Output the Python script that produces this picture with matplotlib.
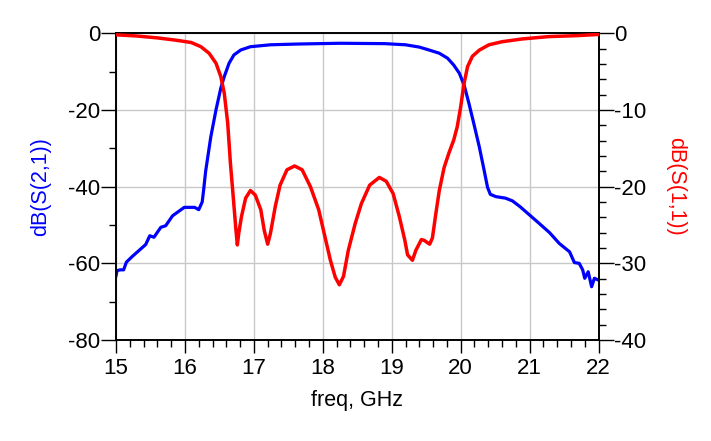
import matplotlib.pyplot as plt
from matplotlib.ticker import MultipleLocator

plt.rcParams["font.family"] = ["Liberation Sans", "DejaVu Sans"]
plt.rcParams["axes.unicode_minus"] = False

# S21 trace (blue, left axis)
freq_s21 = [15.00, 15.015, 15.06, 15.11, 15.15, 15.23, 15.33, 15.43, 15.49, 15.55,
            15.65, 15.72, 15.82, 15.99, 16.14, 16.20, 16.25, 16.27, 16.30, 16.375,
            16.45, 16.52, 16.57, 16.64, 16.71, 16.81, 16.95, 17.24, 17.63, 18.25,
            18.90, 19.20, 19.40, 19.54, 19.69, 19.81, 19.90, 19.98, 20.05, 20.12,
            20.19, 20.27, 20.34, 20.39, 20.43, 20.51, 20.65, 20.75, 20.86, 21.00,
            21.14, 21.29, 21.43, 21.58, 21.65, 21.72, 21.77, 21.80, 21.85, 21.90,
            21.94, 21.99]
s21_db = [-63.2, -61.9, -61.7, -61.7, -59.7, -58.3, -56.7, -55.1, -52.8, -53.2,
          -50.6, -50.2, -47.6, -45.4, -45.4, -46.0, -44.0, -41.0, -36.0, -27.0,
          -20.0, -14.3, -11.3, -7.8, -5.65, -4.35, -3.5, -3.0, -2.8, -2.6,
          -2.7, -3.0, -3.6, -4.35, -5.2, -6.5, -8.3, -10.4, -13.5, -18.3,
          -23.5, -29.6, -35.7, -40.2, -42.0, -42.6, -43.0, -43.7, -45.2, -47.4,
          -49.6, -52.0, -54.8, -57.0, -59.8, -60.0, -61.7, -63.9, -62.2, -66.1,
          -63.9, -64.3]

# S11 trace (red, right axis)
freq_s11 = [15.00, 15.30, 15.60, 15.87, 16.09, 16.23, 16.35, 16.45, 16.52, 16.57,
            16.62, 16.66, 16.70, 16.74, 16.76, 16.78, 16.82, 16.88, 16.95, 17.02,
            17.10, 17.15, 17.20, 17.24, 17.31, 17.38, 17.48, 17.59, 17.70, 17.82,
            17.94, 18.03, 18.11, 18.18, 18.24, 18.30, 18.37, 18.47, 18.56, 18.68,
            18.82, 18.92, 19.02, 19.11, 19.19, 19.23, 19.30, 19.35, 19.43, 19.47,
            19.55, 19.59, 19.64, 19.69, 19.76, 19.83, 19.90, 19.95, 20.00, 20.05,
            20.10, 20.17, 20.27, 20.41, 20.60, 20.89, 21.28, 21.70, 22.00]
s11_db = [-0.2, -0.35, -0.6, -0.9, -1.2, -1.74, -2.6, -3.9, -5.65, -7.8,
          -11.7, -17.0, -21.3, -25.7, -27.6, -26.1, -23.9, -21.5, -20.5, -21.1,
          -23.0, -25.7, -27.5, -26.1, -22.6, -19.8, -17.8, -17.3, -17.8, -20.0,
          -23.0, -26.5, -29.6, -31.8, -32.8, -31.7, -28.3, -24.8, -22.2, -19.8,
          -18.8, -19.3, -20.9, -23.9, -27.0, -28.9, -29.6, -28.3, -26.9, -27.0,
          -27.5, -26.7, -23.5, -20.5, -17.5, -15.6, -13.9, -12.2, -9.6, -6.5,
          -4.35, -3.0, -2.2, -1.5, -1.1, -0.74, -0.43, -0.3, -0.15]

fig = plt.figure(figsize=(7.11, 4.41), dpi=100)
ax1 = fig.add_axes([0.1632, 0.229, 0.6786, 0.6955])
ax2 = ax1.twinx()

ax1.plot(freq_s21, s21_db, color="#0000ff", linewidth=2.3, zorder=3,
         solid_joinstyle="round")
ax2.plot(freq_s11, s11_db, color="#ff0000", linewidth=2.5, zorder=3,
         solid_joinstyle="round")

ax1.set_xlim(15, 22)
ax1.set_ylim(-80, 0)
ax2.set_ylim(-40, 0)

ax1.xaxis.set_major_locator(MultipleLocator(1))
ax1.xaxis.set_minor_locator(MultipleLocator(0.2))
ax1.yaxis.set_major_locator(MultipleLocator(20))
ax1.yaxis.set_minor_locator(MultipleLocator(10))
ax2.yaxis.set_major_locator(MultipleLocator(10))
ax2.yaxis.set_minor_locator(MultipleLocator(2))

ax1.grid(True, which="major", color="#c8c8c8", linewidth=1.0)
ax1.set_axisbelow(True)

ax1.tick_params(axis="y", which="major", length=10.5, width=1, labelsize=16, pad=1)
ax1.tick_params(axis="y", which="minor", length=5, width=1)
ax1.tick_params(axis="x", which="major", length=9, width=1, labelsize=16, pad=4)
ax1.tick_params(axis="x", which="minor", length=5, width=1)
ax2.tick_params(axis="y", which="major", length=10.5, width=1, labelsize=16, pad=1)
ax2.tick_params(axis="y", which="minor", length=5, width=1)

for a in (ax1, ax2):
    for s in a.spines.values():
        s.set_linewidth(1.2)

ax1.set_xlabel("freq, GHz", fontsize=15.5, labelpad=8)
ax1.set_ylabel("dB(S(2,1))", fontsize=15.5, color="#0000ff", labelpad=12)
ax2.set_ylabel("dB(S(1,1))", fontsize=15.5, color="#ff0000", rotation=270,
               labelpad=28)

fig.savefig("out.png", dpi=100)
